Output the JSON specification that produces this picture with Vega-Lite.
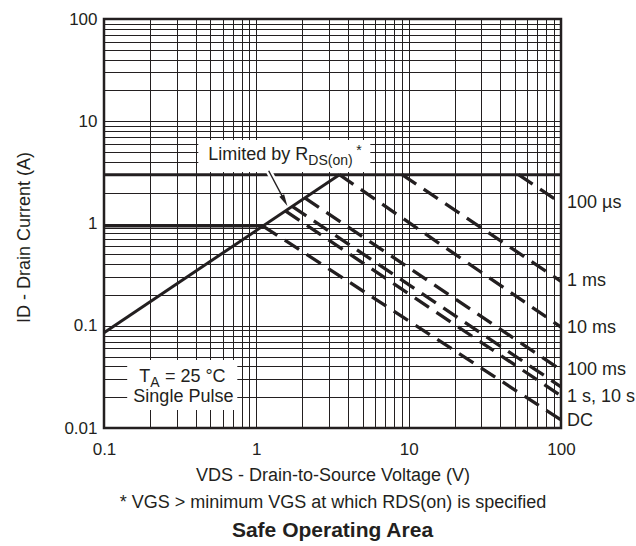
{
  "$schema": "https://vega.github.io/schema/vega-lite/v6.json",
  "width": 457,
  "height": 409,
  "autosize": {"type": "none"},
  "padding": {"left": 104, "top": 19, "right": 75, "bottom": 118},
  "background": "white",
  "title": {"text": "Safe Operating Area", "orient": "bottom", "anchor": "middle", "fontSize": 21, "fontWeight": "bold", "color": "#231f20", "offset": 9, "font": "Liberation Sans"},
  "config": {
    "font": "Liberation Sans",
    "view": {"stroke": "#231f20", "strokeWidth": 2.5},
    "axis": {"domain": false, "ticks": false, "tickSize": 0, "grid": true, "gridColor": "#231f20", "gridOpacity": 1, "gridWidth": 1, "labelColor": "#231f20", "labelFontSize": 17, "titleColor": "#231f20", "titleFontSize": 18, "titleFontWeight": "normal", "labelOverlap": false, "labelFlush": false, "labelBound": false}
  },
  "datasets": {
    "boxes": [
      {"V": 0.416, "V2": 5.6, "I": 3.19, "I2": 6.56},
      {"V": 0.142, "V2": 0.75, "I": 0.015, "I2": 0.0462}
    ],
    "limits": [
      {"id": "Pulsed limit", "V": 0.1, "I": 3},
      {"id": "Pulsed limit", "V": 100, "I": 3},
      {"id": "DC current limit", "V": 0.1, "I": 0.945},
      {"id": "DC current limit", "V": 1.106, "I": 0.945},
      {"id": "RDS(on) limit", "V": 0.1, "I": 0.0855},
      {"id": "RDS(on) limit", "V": 3.51, "I": 3}
    ],
    "pulses": [
      {"id": "100 µs", "V": 52.6, "I": 3},
      {"id": "100 µs", "V": 100, "I": 1.58},
      {"id": "1 ms", "V": 9.05, "I": 3},
      {"id": "1 ms", "V": 100, "I": 0.272},
      {"id": "10 ms", "V": 3.51, "I": 3},
      {"id": "10 ms", "V": 100, "I": 0.097},
      {"id": "100 ms", "V": 2.08, "I": 1.78},
      {"id": "100 ms", "V": 100, "I": 0.037},
      {"id": "1 s", "V": 1.72, "I": 1.47},
      {"id": "1 s", "V": 100, "I": 0.0253},
      {"id": "10 s", "V": 1.55, "I": 1.33},
      {"id": "10 s", "V": 100, "I": 0.0206},
      {"id": "DC", "V": 1.106, "I": 0.945},
      {"id": "DC", "V": 100, "I": 0.012}
    ],
    "arrow": [
      {"V": 1.205, "I": 3.28, "V2": 1.532, "I2": 1.671, "Vh": 1.394, "Ih": 2.175}
    ],
    "arrowHead": [
      {"V": 1.532, "I": 1.671}
    ],
    "endLabels": [
      {"label": "100 µs", "V": 100, "I": 1.59},
      {"label": "1 ms", "V": 100, "I": 0.274},
      {"label": "10 ms", "V": 100, "I": 0.095},
      {"label": "100 ms", "V": 100, "I": 0.0369},
      {"label": "1 s, 10 s", "V": 100, "I": 0.0201},
      {"label": "DC", "V": 100, "I": 0.01178}
    ],
    "noteRight": [
      {"t": "Limited by R", "V": 2.194, "I": 4.18},
      {"t": "T", "V": 0.2014, "I": 0.0284}
    ],
    "noteSub": [
      {"t": "DS(on)", "V": 2.194, "I": 4.18},
      {"t": "A", "V": 0.2014, "I": 0.0284}
    ],
    "noteLeft": [
      {"t": "= 25 °C", "V": 0.251, "I": 0.0284}
    ],
    "noteCenter": [
      {"t": "Single Pulse", "V": 0.332, "I": 0.01808}
    ],
    "noteStar": [
      {"t": "*", "V": 4.536, "I": 4.7}
    ]
  },
  "encoding": {
    "x": {
      "field": "V", "type": "quantitative",
      "scale": {"type": "log", "domain": [0.1, 100], "nice": false, "zero": false},
      "axis": {
        "title": ["VDS - Drain-to-Source Voltage (V)", "* VGS > minimum VGS at which RDS(on) is specified"],
        "titleLineHeight": 27, "titleBaseline": "alphabetic", "titleY": 52,
        "labelPadding": 13,
        "values": [0.1, 0.2, 0.3, 0.4, 0.5, 0.6, 0.7, 0.8, 0.9, 1, 2, 3, 4, 5, 6, 7, 8, 9, 10, 20, 30, 40, 50, 60, 70, 80, 90, 100],
        "labelExpr": "datum.value == 0.1 ? '0.1' : datum.value == 1 ? '1' : datum.value == 10 ? '10' : datum.value == 100 ? '100' : ''"
      }
    },
    "y": {
      "field": "I", "type": "quantitative",
      "scale": {"type": "log", "domain": [0.01, 100], "nice": false, "zero": false},
      "axis": {
        "title": "ID - Drain Current (A)",
        "labelPadding": 7, "titlePadding": 30, "titleY": 218,
        "values": [0.01, 0.02, 0.03, 0.04, 0.05, 0.06, 0.07, 0.08, 0.09, 0.1, 0.2, 0.3, 0.4, 0.5, 0.6, 0.7, 0.8, 0.9, 1, 2, 3, 4, 5, 6, 7, 8, 9, 10, 20, 30, 40, 50, 60, 70, 80, 90, 100],
        "labelExpr": "datum.value == 0.01 ? '0.01' : datum.value == 0.1 ? '0.1' : datum.value == 1 ? '1' : datum.value == 10 ? '10' : datum.value == 100 ? '100' : ''"
      }
    }
  },
  "layer": [
    {"data": {"name": "boxes"}, "mark": {"type": "rect", "fill": "white", "strokeWidth": 0}, "encoding": {"x2": {"field": "V2"}, "y2": {"field": "I2"}}},
    {"data": {"name": "limits"}, "mark": {"type": "line", "color": "#231f20", "strokeWidth": 3, "strokeCap": "butt"}, "encoding": {"detail": {"field": "id"}}},
    {"data": {"name": "pulses"}, "mark": {"type": "line", "color": "#231f20", "strokeWidth": 3.3, "strokeDash": [17, 9], "strokeCap": "butt"}, "encoding": {"detail": {"field": "id"}}},
    {"data": {"name": "arrow"}, "mark": {"type": "rule", "color": "white", "strokeWidth": 6}, "encoding": {"x2": {"field": "Vh"}, "y2": {"field": "Ih"}}},
    {"data": {"name": "arrow"}, "mark": {"type": "rule", "color": "#231f20", "strokeWidth": 1.4}, "encoding": {"x2": {"field": "V2"}, "y2": {"field": "I2"}}},
    {"data": {"name": "arrowHead"}, "mark": {"type": "point", "shape": "M0,-1L0.45,1L-0.45,1Z", "filled": true, "color": "#231f20", "opacity": 1, "size": 144, "angle": 152}},
    {"data": {"name": "endLabels"}, "mark": {"type": "text", "align": "left", "baseline": "middle", "dx": 6, "fontSize": 18, "color": "#231f20"}, "encoding": {"text": {"field": "label"}}},
    {"data": {"name": "noteRight"}, "mark": {"type": "text", "align": "right", "baseline": "alphabetic", "fontSize": 18, "color": "#231f20"}, "encoding": {"text": {"field": "t"}}},
    {"data": {"name": "noteSub"}, "mark": {"type": "text", "align": "left", "baseline": "alphabetic", "dy": 5, "fontSize": 14, "color": "#231f20"}, "encoding": {"text": {"field": "t"}}},
    {"data": {"name": "noteLeft"}, "mark": {"type": "text", "align": "left", "baseline": "alphabetic", "fontSize": 18, "color": "#231f20"}, "encoding": {"text": {"field": "t"}}},
    {"data": {"name": "noteCenter"}, "mark": {"type": "text", "align": "center", "baseline": "alphabetic", "fontSize": 18, "color": "#231f20"}, "encoding": {"text": {"field": "t"}}},
    {"data": {"name": "noteStar"}, "mark": {"type": "text", "align": "left", "baseline": "alphabetic", "fontSize": 14, "color": "#231f20"}, "encoding": {"text": {"field": "t"}}}
  ]
}
